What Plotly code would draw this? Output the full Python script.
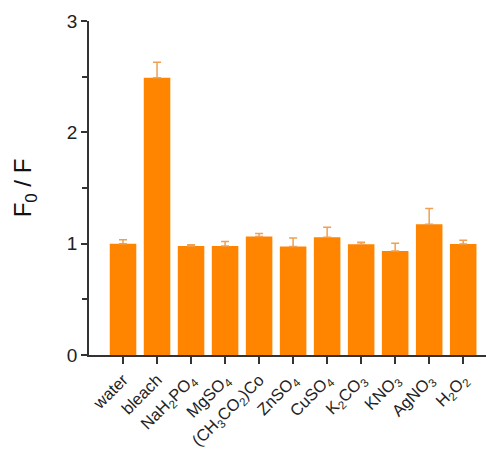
import plotly.graph_objects as go

categories = ["water", "bleach", "NaH<sub>2</sub>PO<sub>4</sub>", "MgSO<sub>4</sub>",
              "(CH<sub>3</sub>CO<sub>2</sub>)Co", "ZnSO<sub>4</sub>", "CuSO<sub>4</sub>",
              "K<sub>2</sub>CO<sub>3</sub>", "KNO<sub>3</sub>", "AgNO<sub>3</sub>", "H<sub>2</sub>O<sub>2</sub>"]
values = [1.00, 2.49, 0.98, 0.98, 1.065, 0.975, 1.057, 0.995, 0.935, 1.175, 0.997]
errors = [0.035, 0.14, 0.01, 0.04, 0.027, 0.075, 0.09, 0.018, 0.068, 0.14, 0.033]

x_idx = list(range(len(categories)))

fig = go.Figure(go.Bar(
    x=x_idx, y=values, width=0.78,
    marker=dict(color="#ff8400", line=dict(width=0)),
    error_y=dict(type="data", array=errors, arrayminus=[0]*len(errors), symmetric=False,
                 color="#f0a050", thickness=1.5, width=4),
))

fig.update_layout(
    width=487, height=451,
    margin=dict(l=89, r=1, t=21, b=96),
    paper_bgcolor="white", plot_bgcolor="white",
    showlegend=False,
    font=dict(family="Liberation Sans, Arial, sans-serif", color="#222"),
)
fig.update_xaxes(
    range=[-1, 10.67], tickmode="array", tickvals=x_idx, ticktext=categories,
    tickangle=-45, tickfont=dict(size=16.5, color="#222"), ticks="outside", ticklen=7, tickcolor="#333",
    tickwidth=1.5,
    showline=True, linecolor="#333", linewidth=1.5, showgrid=False, zeroline=False,
    automargin=False,
)
fig.update_yaxes(
    range=[0, 3], tickvals=[0, 1, 2, 3], ticks="outside", ticklen=6, tickcolor="#333",
    tickwidth=1.5,
    tickfont=dict(size=19, color="#222"), showline=True, linecolor="#333", linewidth=1.5,
    showgrid=False, zeroline=False, automargin=False,
    minor=dict(tickvals=[0.5, 1.5, 2.5], ticks="outside", ticklen=5, tickcolor="#333"),
    title=dict(text="F<sub>0</sub> / F", font=dict(size=24, color="#111"), standoff=28),
)

fig.write_html("out.html", post_script="document.body.style.margin='0';",
               config={"displayModeBar": False})
